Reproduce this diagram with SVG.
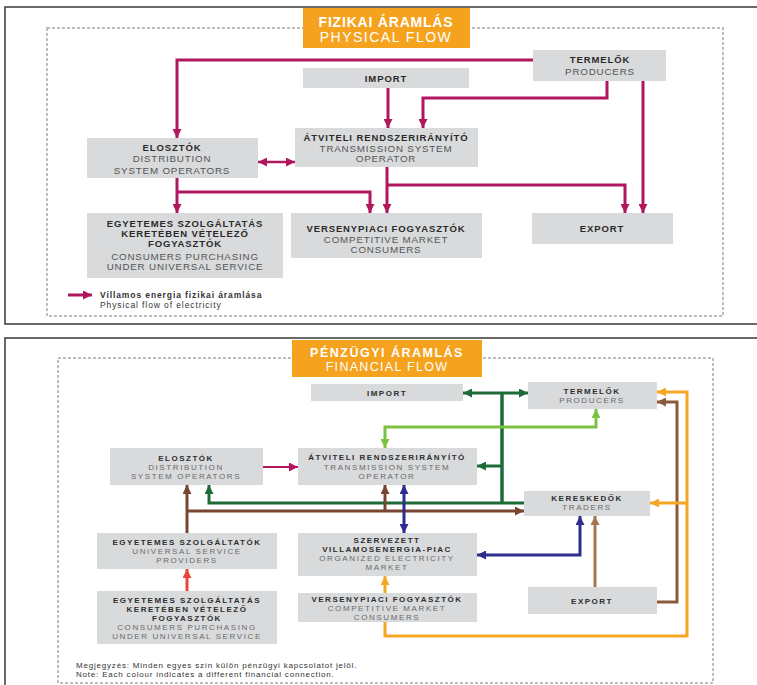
<svg xmlns="http://www.w3.org/2000/svg" width="757" height="685" viewBox="0 0 757 685">
<style>
.frame{fill:none;stroke:#3a3a3a;stroke-width:1.5}
.dash{fill:none;stroke:#a8a8a8;stroke-width:1.5;stroke-dasharray:3 2}
.box{fill:#d8dadc}
.title{fill:#f5a21e}
text{font-family:"Liberation Sans",Arial,sans-serif;text-anchor:middle}
.h{font-weight:bold;font-size:9.5px;fill:#2a2a2a;letter-spacing:0.9px}
.e{font-size:9.8px;fill:#555;letter-spacing:0.8px}
.h2{font-weight:bold;font-size:8px;fill:#2e2e2e;letter-spacing:1.5px}
.e2{font-size:8px;fill:#6a6a6a;letter-spacing:1.6px}
.tt{font-weight:bold;font-size:14px;fill:#fff;letter-spacing:0.8px}
.ts{font-size:14px;fill:#fff;letter-spacing:1.5px}
.note{font-size:8px;fill:#333;text-anchor:start;letter-spacing:0.8px}
.c{fill:none;stroke-width:3}
.mg{stroke:#b0175f}
.dg{stroke:#1e6b3a}
.lg{stroke:#7cc142}
.br{stroke:#774630}
.br2{stroke:#8b5a3b}
.br3{stroke:#a3784f}
.nv{stroke:#2e2d8f}
.or{stroke:#f5a623}
.rd{stroke:#e8453c}
</style>
<defs>
<marker id="aM" viewBox="0 0 10 10" refX="10" refY="5" markerWidth="9" markerHeight="9" markerUnits="userSpaceOnUse" orient="auto-start-reverse"><path d="M0,0 L10,5 L0,10 z" fill="#b0175f"/></marker>
<marker id="aDG" viewBox="0 0 10 10" refX="10" refY="5" markerWidth="9" markerHeight="9" markerUnits="userSpaceOnUse" orient="auto-start-reverse"><path d="M0,0 L10,5 L0,10 z" fill="#1e6b3a"/></marker>
<marker id="aLG" viewBox="0 0 10 10" refX="10" refY="5" markerWidth="9" markerHeight="9" markerUnits="userSpaceOnUse" orient="auto-start-reverse"><path d="M0,0 L10,5 L0,10 z" fill="#7cc142"/></marker>
<marker id="aBR" viewBox="0 0 10 10" refX="10" refY="5" markerWidth="9" markerHeight="9" markerUnits="userSpaceOnUse" orient="auto-start-reverse"><path d="M0,0 L10,5 L0,10 z" fill="#774630"/></marker>
<marker id="aBR2" viewBox="0 0 10 10" refX="10" refY="5" markerWidth="9" markerHeight="9" markerUnits="userSpaceOnUse" orient="auto-start-reverse"><path d="M0,0 L10,5 L0,10 z" fill="#8b5a3b"/></marker>
<marker id="aBR3" viewBox="0 0 10 10" refX="10" refY="5" markerWidth="9" markerHeight="9" markerUnits="userSpaceOnUse" orient="auto-start-reverse"><path d="M0,0 L10,5 L0,10 z" fill="#a3784f"/></marker>
<marker id="aNV" viewBox="0 0 10 10" refX="10" refY="5" markerWidth="9" markerHeight="9" markerUnits="userSpaceOnUse" orient="auto-start-reverse"><path d="M0,0 L10,5 L0,10 z" fill="#2e2d8f"/></marker>
<marker id="aOR" viewBox="0 0 10 10" refX="10" refY="5" markerWidth="9" markerHeight="9" markerUnits="userSpaceOnUse" orient="auto-start-reverse"><path d="M0,0 L10,5 L0,10 z" fill="#f5a623"/></marker>
<marker id="aRD" viewBox="0 0 10 10" refX="10" refY="5" markerWidth="9" markerHeight="9" markerUnits="userSpaceOnUse" orient="auto-start-reverse"><path d="M0,0 L10,5 L0,10 z" fill="#e8453c"/></marker>
</defs>
<rect width="757" height="685" fill="#fff"/>

<!-- ===== TOP PANEL: PHYSICAL FLOW ===== -->
<g id="panel-physical">
<path class="frame" d="M757,7 H5 V324 H757"/>
<rect class="dash" x="47" y="28" width="676" height="288"/>
</g>
<g id="title-physical">
<rect class="title" x="303" y="8" width="167" height="40"/>
<text class="tt" x="386" y="27">FIZIKAI ÁRAMLÁS</text>
<text class="ts" x="386" y="42">PHYSICAL FLOW</text>
</g>

<g id="p-connectors">
<path class="c mg" d="M533,60 H177 V138" marker-end="url(#aM)"/>
<path class="c mg" d="M388,88 V128" marker-end="url(#aM)"/>
<path class="c mg" d="M607,81 V98 H423 V128" marker-end="url(#aM)"/>
<path class="c mg" style="stroke-width:2.5" d="M258,162 H295" marker-start="url(#aM)" marker-end="url(#aM)"/>
<path class="c mg" d="M177,178 V213" marker-end="url(#aM)"/>
<path class="c mg" d="M177,192 H370 V213" marker-end="url(#aM)"/>
<path class="c mg" d="M387,167 V213" marker-end="url(#aM)"/>
<path class="c mg" d="M387,185 H625 V213" marker-end="url(#aM)"/>
<path class="c mg" d="M643,81 V213" marker-end="url(#aM)"/>
</g>

<g id="p-import">
<rect class="box" x="303" y="68" width="166" height="20"/>
<text class="h" x="386" y="82">IMPORT</text>
</g>
<g id="p-termelok">
<rect class="box" x="533" y="50" width="133" height="31"/>
<text class="h" x="600" y="63">TERMELŐK</text>
<text class="e" x="600" y="75">PRODUCERS</text>
</g>
<g id="p-elosztok">
<rect class="box" x="87" y="138" width="171" height="40"/>
<text class="h" x="172" y="151">ELOSZTÓK</text>
<text class="e" x="172" y="162">DISTRIBUTION</text>
<text class="e" x="172" y="174">SYSTEM OPERATORS</text>
</g>
<g id="p-atviteli">
<rect class="box" x="295" y="128" width="183" height="39"/>
<text class="h" x="386" y="141">ÁTVITELI RENDSZERIRÁNYÍTÓ</text>
<text class="e" x="386" y="152">TRANSMISSION SYSTEM</text>
<text class="e" x="386" y="162">OPERATOR</text>
</g>
<g id="p-egyetemes">
<rect class="box" x="87" y="213" width="196" height="65"/>
<text class="h" x="185" y="227">EGYETEMES SZOLGÁLTATÁS</text>
<text class="h" x="185" y="237">KERETÉBEN VÉTELEZŐ</text>
<text class="h" x="185" y="247">FOGYASZTÓK</text>
<text class="e" x="185" y="260">CONSUMERS PURCHASING</text>
<text class="e" x="185" y="270">UNDER UNIVERSAL SERVICE</text>
</g>
<g id="p-versenypiaci">
<rect class="box" x="291" y="213" width="191" height="45"/>
<text class="h" x="386" y="232">VERSENYPIACI FOGYASZTÓK</text>
<text class="e" x="386" y="243">COMPETITIVE MARKET</text>
<text class="e" x="386" y="253">CONSUMERS</text>
</g>
<g id="p-export">
<rect class="box" x="532" y="213" width="141" height="31"/>
<text class="h" x="602" y="232">EXPORT</text>
</g>
<g id="p-legend">
<path class="c mg" d="M68,295 H92" marker-end="url(#aM)"/>
<text class="note" x="100" y="298" style="font-weight:bold;font-size:8.5px;letter-spacing:0.9px">Villamos energia fizikai áramlása</text>
<text class="note" x="100" y="308" style="font-size:8.5px;letter-spacing:0.9px">Physical flow of electricity</text>
</g>

<!-- ===== BOTTOM PANEL: FINANCIAL FLOW ===== -->
<g id="panel-financial">
<path class="frame" d="M757,338 H5 V685"/>
<rect class="dash" x="58" y="358" width="655" height="325"/>
</g>
<g id="title-financial">
<rect class="title" x="292" y="340" width="190" height="37"/>
<text class="tt" x="387" y="357" style="font-size:12.5px;letter-spacing:1.5px">PÉNZÜGYI ÁRAMLÁS</text>
<text class="ts" x="387" y="370.5" style="font-size:12.5px;letter-spacing:1.3px">FINANCIAL FLOW</text>
</g>

<g id="f-connectors">
<path class="c mg" style="stroke-width:2" d="M263,467 H298" marker-end="url(#aM)"/>
<path class="c dg" style="stroke-width:3.5" d="M502,393 V503"/>
<path class="c dg" d="M463,393 H528" marker-start="url(#aDG)" marker-end="url(#aDG)"/>
<path class="c dg" d="M502,466 H477" marker-end="url(#aDG)"/>
<path class="c dg" d="M524,503 H209 V485" marker-end="url(#aDG)"/>
<path class="c lg" d="M596,409 V427 H385 V448" marker-start="url(#aLG)" marker-end="url(#aLG)"/>
<path class="c br" d="M187,533 V485" marker-end="url(#aBR)"/>
<path class="c br" d="M187,511 H524" marker-end="url(#aBR)"/>
<path class="c br" d="M385,511 V485" marker-end="url(#aBR)"/>
<path class="c nv" d="M404,485 V533" marker-start="url(#aNV)" marker-end="url(#aNV)"/>
<path class="c nv" d="M477,555 H580 V516" marker-start="url(#aNV)" marker-end="url(#aNV)"/>
<path class="c br3" d="M595,587 V516" marker-end="url(#aBR3)"/>
<path class="c br2" d="M657,602 H677 V402 H657" marker-end="url(#aBR2)"/>
<path class="c or" d="M385,593 V576" marker-end="url(#aOR)"/>
<path class="c or" d="M385,622 V636 H687 V392 H657" marker-end="url(#aOR)"/>
<path class="c or" d="M687,503 H650" marker-end="url(#aOR)"/>
<path class="c rd" d="M187,591 V569" marker-end="url(#aRD)"/>
</g>

<g id="f-import">
<rect class="box" x="311" y="384" width="152" height="17"/>
<text class="h2" x="387" y="396">IMPORT</text>
</g>
<g id="f-termelok">
<rect class="box" x="528" y="382" width="129" height="27"/>
<text class="h2" x="592" y="394">TERMELŐK</text>
<text class="e2" x="592" y="403">PRODUCERS</text>
</g>
<g id="f-elosztok">
<rect class="box" x="110" y="448" width="153" height="37"/>
<text class="h2" x="186" y="461">ELOSZTÓK</text>
<text class="e2" x="186" y="470">DISTRIBUTION</text>
<text class="e2" x="186" y="479">SYSTEM OPERATORS</text>
</g>
<g id="f-atviteli">
<rect class="box" x="298" y="448" width="179" height="37"/>
<text class="h2" x="387" y="460">ÁTVITELI RENDSZERIRÁNYÍTÓ</text>
<text class="e2" x="387" y="470">TRANSMISSION SYSTEM</text>
<text class="e2" x="387" y="479">OPERATOR</text>
</g>
<g id="f-kereskedok">
<rect class="box" x="524" y="491" width="126" height="25"/>
<text class="h2" x="587" y="501">KERESKEDŐK</text>
<text class="e2" x="587" y="510">TRADERS</text>
</g>
<g id="f-szervezett">
<rect class="box" x="298" y="533" width="179" height="43"/>
<text class="h2" x="387" y="543">SZERVEZETT</text>
<text class="h2" x="387" y="552">VILLAMOSENERGIA-PIAC</text>
<text class="e2" x="387" y="561">ORGANIZED ELECTRICITY</text>
<text class="e2" x="387" y="570">MARKET</text>
</g>
<g id="f-versenypiaci">
<rect class="box" x="298" y="593" width="179" height="29"/>
<text class="h2" x="387" y="602">VERSENYPIACI FOGYASZTÓK</text>
<text class="e2" x="387" y="611">COMPETITIVE MARKET</text>
<text class="e2" x="387" y="620">CONSUMERS</text>
</g>
<g id="f-export">
<rect class="box" x="528" y="587" width="129" height="27"/>
<text class="h2" x="592" y="604">EXPORT</text>
</g>
<g id="f-egyetemes-szolg">
<rect class="box" x="97" y="533" width="180" height="36"/>
<text class="h2" x="187" y="545">EGYETEMES SZOLGÁLTATÓK</text>
<text class="e2" x="187" y="554">UNIVERSAL SERVICE</text>
<text class="e2" x="187" y="563">PROVIDERS</text>
</g>
<g id="f-egyetemes-fogy">
<rect class="box" x="97" y="591" width="180" height="53"/>
<text class="h2" x="187" y="603">EGYETEMES SZOLGÁLTATÁS</text>
<text class="h2" x="187" y="612">KERETÉBEN VÉTELEZŐ</text>
<text class="h2" x="187" y="621">FOGYASZTÓK</text>
<text class="e2" x="187" y="630">CONSUMERS PURCHASING</text>
<text class="e2" x="187" y="639">UNDER UNIVERSAL SERVICE</text>
</g>
<g id="f-note">
<text class="note" x="76" y="668">Megjegyzés: Minden egyes szín külön pénzügyi kapcsolatot jelöl.</text>
<text class="note" x="76" y="677">Note: Each colour indicates a different financial connection.</text>
</g>
</svg>
